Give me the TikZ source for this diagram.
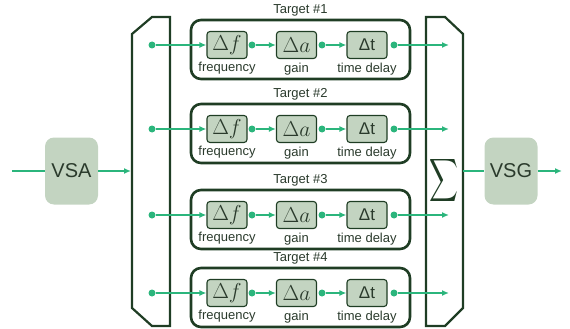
\documentclass[tikz,border=0pt]{standalone}
\usepackage{graphicx}
\usepackage{fontspec}
\setmainfont{Liberation Sans}
\usetikzlibrary{arrows.meta,positioning}

\definecolor{sigline}{HTML}{2BB57C}
\definecolor{darkrim}{HTML}{1F3D24}
\definecolor{blockfill}{HTML}{C3D4C1}
\definecolor{inktext}{HTML}{2A3A2C}

\newcommand{\bigmath}[1]{\scalebox{1.25}{$#1$}}

\begin{document}
\begin{tikzpicture}[x=1pt, y=-1pt,
    blk/.style={draw=darkrim, fill=blockfill, rounded corners=3pt, line width=1.1pt,
        minimum width=40pt, minimum height=27pt, inner sep=0pt, text=inktext,
        font=\fontsize{17}{17}\selectfont},
    instr/.style={fill=blockfill, rounded corners=9pt, minimum width=53pt,
        minimum height=67pt, text=inktext, font=\fontsize{20}{20}\selectfont},
    tgt/.style={draw=darkrim, line width=2.6pt, rounded corners=10pt,
        minimum width=219pt, minimum height=59pt, inner sep=0pt},
    rim/.style={draw=darkrim, line width=2.2pt},
    sig/.style={draw=sigline, line width=1.8pt, -{Latex[length=7pt,width=6pt]}},
    dot/.style={circle, fill=sigline, inner sep=0pt, minimum size=7pt},
    lbl/.style={font=\fontsize{13}{13}\selectfont, text=inktext}
]
    \useasboundingbox (0,0) rectangle (570,329);

    % splitter and combiner
    \draw[rim] (152,17) -- (170,17) -- (170,326) -- (152,326) -- (132,308) -- (132,34) -- cycle;
    \draw[rim] (426,17) -- (445,17) -- (463,34) -- (463,308) -- (445,326) -- (426,326) -- cycle;
    \node[text=darkrim] (sum) at (444,180) {\scalebox{2.0}[3.0]{$\displaystyle\sum$}};

    % one branch per target
    \foreach \k/\yy in {1/45,2/129,3/215,4/293} {
        \node[tgt] (tg\k) at (300.5,\yy+4.5) {};
        \node[lbl] (tt\k) at (300.5,\yy-35) {Target \#\k};

        \node[dot] (in\k) at (152,\yy) {};
        \node[blk] (df\k) at (227,\yy) {\bigmath{\Delta f}};
        \node[blk] (da\k) at (296.5,\yy) {\bigmath{\Delta a}};
        \node[blk] (dt\k) at (367,\yy) {Δt};
        \node[lbl, below=0pt] (fl\k) at (df\k.south) {frequency};
        \node[lbl, below=0pt] (gl\k) at (da\k.south) {gain};
        \node[lbl, below=0pt] (tl\k) at (dt\k.south) {time delay};

        \node[dot] (fo\k) at (252,\yy) {};
        \node[dot] (ao\k) at (322,\yy) {};
        \node[dot] (to\k) at (394,\yy) {};
        \coordinate (cb\k) at (449,\yy);

        \draw[sig] (in\k) -- (df\k);
        \draw[sig] (fo\k) -- (da\k);
        \draw[sig] (ao\k) -- (dt\k);
        \draw[sig] (to\k) -- (cb\k);
    }

    % analyser in, generator out
    \node[instr] (vsa) at (71.5,171) {VSA};
    \node[instr] (vsg) at (511,171) {VSG};
    \coordinate (src) at (12,171);
    \coordinate (spl) at (131,171);
    \coordinate (cmb) at (463,171);
    \coordinate (out) at (562,171);

    \draw[sig, -] (src) -- (vsa);
    \draw[sig] (vsa) -- (spl);
    \draw[sig, -] (cmb) -- (vsg);
    \draw[sig] (vsg) -- (out);
\end{tikzpicture}
\end{document}
